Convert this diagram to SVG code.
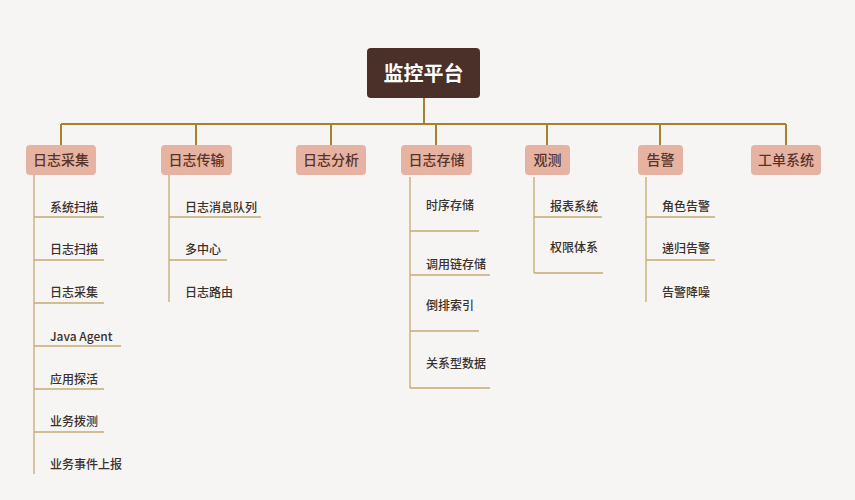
<svg xmlns="http://www.w3.org/2000/svg" width="855" height="500" viewBox="0 0 855 500">
<style>
text{font-family:"Noto Sans CJK SC","Noto Sans",sans-serif;}
.cat rect{fill:#e6b3a3;}
.cat text{font-size:14px;fill:#5a3328;text-anchor:middle;font-weight:500;}
.it{font-size:12px;fill:#3a302c;font-weight:500;}
.bus{stroke:#a8812e;stroke-width:2;fill:none;}
.br{stroke:#c4aa72;stroke-width:1.3;fill:none;}
</style>
<rect width="855" height="500" fill="#f7f5f3"/>
<g id="connectors">
<path class="bus" d="M424 98V124M61 124H786M61 124V145M196 124V145M331 124V145M436 124V145M547 124V145M660 124V145M786 124V145"/>
<path class="br" d="M34 175V474M34 217H104M34 260H104M34 303H104M34 346H121M34 389H104M34 432H104"/>
<path class="br" d="M169 175V302M169 217H261M169 260H227"/>
<path class="br" d="M410 177V388M410 231H479M410 275H490M410 331H479M410 388H490"/>
<path class="br" d="M534 177V273M534 217H602M534 273H603"/>
<path class="br" d="M646 177V302M646 217H715M646 260H715"/>
</g>
<g id="root"><rect x="367" y="48" width="113" height="50" rx="4" fill="#4a3029"/><text x="423.5" y="81" font-size="20" font-weight="bold" fill="#fff" text-anchor="middle">监控平台</text></g>
<g id="c1" class="cat"><rect x="26" y="145" width="70" height="30" rx="4"/><text x="61" y="165">日志采集</text></g>
<g id="c2" class="cat"><rect x="161" y="145" width="71" height="30" rx="4"/><text x="196.5" y="165">日志传输</text></g>
<g id="c3" class="cat"><rect x="296" y="145" width="70" height="30" rx="4"/><text x="331" y="165">日志分析</text></g>
<g id="c4" class="cat"><rect x="401" y="145" width="71" height="30" rx="4"/><text x="436.5" y="165">日志存储</text></g>
<g id="c5" class="cat"><rect x="525" y="145" width="45" height="30" rx="4"/><text x="547.5" y="165">观测</text></g>
<g id="c6" class="cat"><rect x="638" y="145" width="45" height="30" rx="4"/><text x="660.5" y="165">告警</text></g>
<g id="c7" class="cat"><rect x="751" y="145" width="70" height="30" rx="4"/><text x="786" y="165">工单系统</text></g>
<g id="items1"><text class="it" x="50" y="212">系统扫描</text><text class="it" x="50" y="254">日志扫描</text><text class="it" x="50" y="297">日志采集</text><text class="it" x="50" y="341">Java Agent</text><text class="it" x="50" y="384">应用探活</text><text class="it" x="50" y="426">业务拨测</text><text class="it" x="50" y="469">业务事件上报</text></g>
<g id="items2"><text class="it" x="185" y="212">日志消息队列</text><text class="it" x="185" y="254">多中心</text><text class="it" x="185" y="297">日志路由</text></g>
<g id="items4"><text class="it" x="426" y="210">时序存储</text><text class="it" x="426" y="269">调用链存储</text><text class="it" x="426" y="310">倒排索引</text><text class="it" x="426" y="368">关系型数据</text></g>
<g id="items5"><text class="it" x="550" y="211">报表系统</text><text class="it" x="550" y="252">权限体系</text></g>
<g id="items6"><text class="it" x="662" y="211">角色告警</text><text class="it" x="662" y="253">递归告警</text><text class="it" x="662" y="297">告警降噪</text></g>
</svg>
